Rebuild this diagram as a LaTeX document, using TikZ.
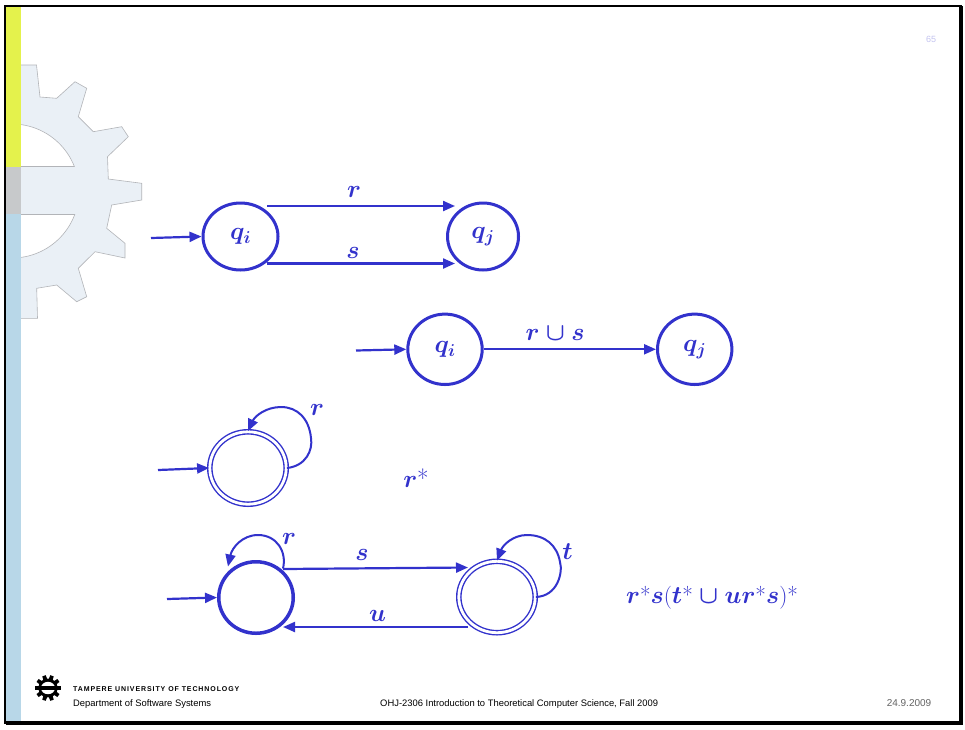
\documentclass[tikz,border=0pt]{standalone}
\usepackage{fontspec}
\newfontfamily\footfont{Liberation Sans}
\usetikzlibrary{arrows.meta,shapes.geometric}

\definecolor{fsmblue}{RGB}{50,50,204}
\definecolor{gearfill}{RGB}{234,240,246}
\definecolor{gearline}{RGB}{178,180,184}
\definecolor{baryellow}{RGB}{228,242,76}
\definecolor{bargray}{RGB}{199,201,203}
\definecolor{barblue}{RGB}{184,215,232}
\definecolor{pagenum}{RGB}{196,196,240}
\definecolor{dategray}{RGB}{100,100,100}

\tikzset{
  state/.style={ellipse, draw=fsmblue, line width=3pt, inner sep=0pt,
    text=fsmblue, font=\fontsize{25}{30}\selectfont\boldmath},
  accepting/.style={ellipse, draw=fsmblue, line width=1.4pt, double=white,
    double distance=2.8pt, inner sep=0pt},
  trans/.style={draw=fsmblue, line width=2.2pt, -{Triangle[length=12pt,width=10pt]}},
  looptrans/.style={trans, line width=2pt},
  lbl/.style={text=fsmblue, inner sep=0pt, font=\fontsize{25}{30}\selectfont\boldmath},
  foot/.style={inner sep=0pt, font=\footfont\fontsize{9.4}{11}\selectfont},
}

\begin{document}
\begin{tikzpicture}[x=1pt, y=-1pt]
\useasboundingbox (0,0) rectangle (965,729);
\fill[white] (0,0) rectangle (965,729);

% background gear emblem
\fill[gearfill, draw=gearline, line width=0.6pt]
  (20,65) -- (36.5,65) -- (40,97) -- (56.7,98.3) -- (75,81.7) -- (86.7,88.3)
  -- (78.3,116.7) -- (93.3,131.7) -- (121.7,126.7) -- (128.3,136.7)
  -- (107.5,156.7) -- (108.3,179) -- (141.7,183.3) -- (141.7,200)
  -- (111.7,205) -- (106.7,228.3) -- (125,243.3) -- (125,258) -- (95,251.7)
  -- (78.3,268.3) -- (86.7,296.7) -- (76.7,301.7) -- (56.7,285)
  -- (36.7,288.3) -- (37.5,318.3) -- (20,318.3) -- cycle;
\begin{scope}
  \clip (20,0) rectangle (200,166);
  \fill[white, draw=gearline, line width=0.6pt] (12,191) circle[radius=67];
\end{scope}
\begin{scope}
  \clip (20,214) rectangle (200,400);
  \fill[white, draw=gearline, line width=0.6pt] (12,191) circle[radius=67];
\end{scope}
\draw[gearline, line width=0.6pt] (20,166) -- (74.2,166);
\draw[gearline, line width=0.6pt] (20,214) -- (74.9,214);

% coloured side strip
\fill[baryellow] (6,6.5) rectangle (20.5,166.5);
\fill[bargray] (6,166.5) rectangle (20.5,214);
\fill[barblue] (6,214) rectangle (20.5,721);

% page frame
\draw[black, line width=2.3pt] (4.7,5.7) rectangle (960.7,722.7);
\fill[black] (959,6) rectangle (962.7,724.7);
\fill[black] (6,720.7) rectangle (962.7,724.7);

% page number
\node[inner sep=0pt, anchor=base, text=pagenum, font=\footfont\fontsize{9}{11}\selectfont]
  (pnum) at (931,42.5) {65};

% union of parallel transitions
\node[state, minimum width=75pt, minimum height=67pt] (qi1) at (240.5,236.5) {$q_i$};
\node[state, minimum width=71pt, minimum height=67pt] (qj1) at (483,236.5) {$q_j$};
\coordinate (in1) at (151,238);
\draw[trans] (in1) -- (qi1.west);
\draw[trans] ([shift={(26.5,-30.5)}]qi1.center) -- ([shift={(-28,-30.5)}]qj1.center);
\draw[trans] ([shift={(26.5,27)}]qi1.center) -- ([shift={(-28,27)}]qj1.center);
\node[lbl] (r1) at (354,191.5) {$r$};
\node[lbl] (s1) at (353,253) {$s$};

\node[state, minimum width=74.4pt, minimum height=70.4pt] (qi2) at (445,349.3) {$q_i$};
\node[state, minimum width=74.4pt, minimum height=70.4pt] (qj2) at (694.7,349.3) {$q_j$};
\coordinate (in2) at (356,350.5);
\draw[trans] (in2) -- (qi2.west);
\draw[trans] (qi2.east) -- (qj2.west);
\node[lbl] (rs2) at (555,334) {$r\cup s$};

% star
\node[accepting, minimum width=76.4pt, minimum height=72.4pt] (c3) at (248,468) {};
\coordinate (in3) at (158,470);
\draw[trans] (in3) -- (c3.west);
\draw[looptrans] (c3.east) .. controls (306,466) and (313,450) .. (311,438)
  .. controls (309,418) and (297,407) .. (281,407)
  .. controls (266,407) and (255,416) .. (c3.north);
\node[lbl] (r3) at (317,410) {$r$};
\node[lbl] (e3) at (416,478) {$r$*};

% two-state automaton
\node[state, line width=3.5pt, minimum width=74.5pt, minimum height=71.5pt] (a4) at (256,597.5) {};
\node[accepting, minimum width=76.4pt, minimum height=71.4pt] (b4) at (497,597) {};
\coordinate (in4) at (167,599);
\draw[trans] (in4) -- (a4.west);
\draw[looptrans] ([shift={(27,-29)}]a4.center) .. controls (287,552) and (277,535) .. (258,535)
  .. controls (242,535) and (232,548) .. ([shift={(-28,-31)}]a4.center);
\draw[looptrans] (b4.east) .. controls (558,596) and (563,572) .. (560,562)
  .. controls (557,545) and (545,535) .. (527,535)
  .. controls (513,535) and (503,545) .. (b4.north);
\draw[trans] ([shift={(27,-28.5)}]a4.center) -- ([shift={(-29,-29.5)}]b4.center);
\draw[trans] ([shift={(-29,30)}]b4.center) -- ([shift={(27,29.5)}]a4.center);
\node[lbl] (r4) at (289,539) {$r$};
\node[lbl] (s4) at (362,555) {$s$};
\node[lbl] (t4) at (567.5,552) {$t$};
\node[lbl] (u4) at (377.5,616) {$u$};
\node[lbl, font=\fontsize{23}{28}\selectfont\boldmath] (e4) at (712,598)
  {$r$*$s$($t$*${}\cup{}$$ur$*$s$)*};

% footer logo
\begin{scope}[shift={(48,688)}]
  \fill[black] (0:13)
    \foreach \a in {0,36,...,324} {
      -- (\a-8:13) -- (\a+8:13) -- (\a+12:9.5) -- (\a+24:9.5) -- (\a+28:13)
    } -- cycle;
  \fill[white] (0,0) ellipse[x radius=7, y radius=6.2];
  \fill[black] (-9,-1.6) rectangle (9,1.6);
\end{scope}

% footer texts
\node[inner sep=0pt, anchor=base west,
  font=\footfont\bfseries\fontsize{7}{8}\selectfont\addfontfeature{LetterSpace=13}]
  (uni) at (73,691.5) {TAMPERE UNIVERSITY OF TECHNOLOGY};
\node[foot, anchor=base west] (dept) at (73,706.3) {Department of Software Systems};
\node[foot, anchor=base west] (course) at (380,706.3)
  {OHJ-2306 Introduction to Theoretical Computer Science, Fall 2009};
\node[inner sep=0pt, anchor=base, text=dategray, font=\footfont\fontsize{10}{12}\selectfont]
  (date) at (909,706.6) {24.9.2009};
\end{tikzpicture}
\end{document}
